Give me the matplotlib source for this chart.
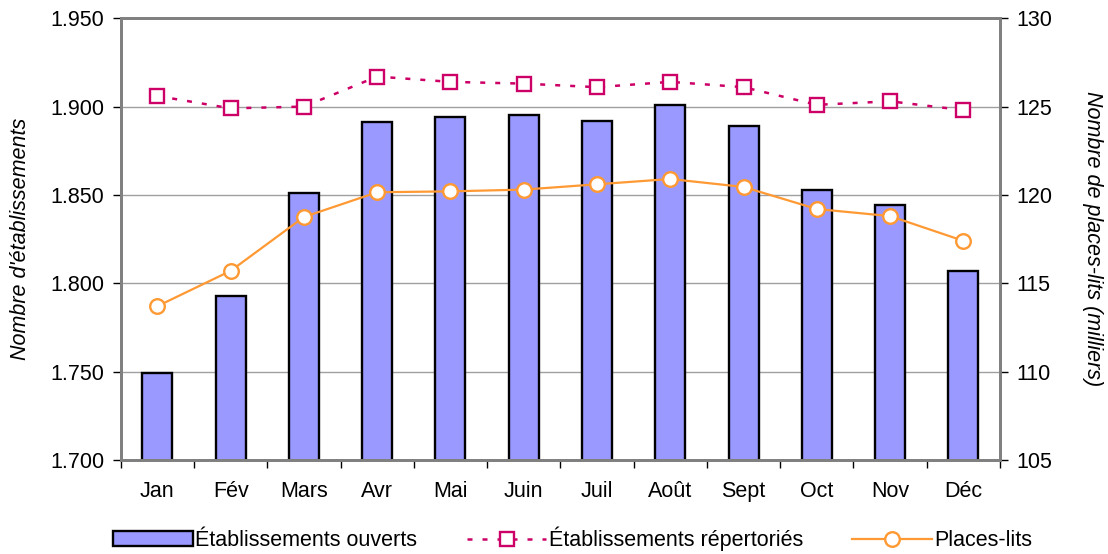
import numpy as np
import matplotlib
matplotlib.use("Agg")
import matplotlib.pyplot as plt
from matplotlib.ticker import FuncFormatter, FixedLocator

plt.rcParams['font.family'] = ['Liberation Sans', 'DejaVu Sans']

mois = ["Jan", "Fév", "Mars", "Avr", "Mai", "Juin", "Juil", "Août", "Sept", "Oct", "Nov", "Déc"]
ouverts = [1749, 1793, 1851, 1891, 1894, 1895, 1892, 1901, 1889, 1853, 1844, 1807]
repertories = [1906, 1899, 1900, 1917, 1914, 1913, 1911, 1914, 1911, 1901, 1903, 1898]
places_lits = [113.7, 115.7, 118.75, 120.15, 120.2, 120.3, 120.6, 120.9, 120.45, 119.2, 118.8, 117.4]

fs = 15.5
x = np.arange(len(mois))

fig = plt.figure(figsize=(11.08, 5.54), dpi=100)
ax = fig.add_axes([0.109, 0.170, 0.7935, 0.797])
ax2 = ax.twinx()

ax.set_zorder(1)
ax2.set_zorder(2)
ax.patch.set_visible(True)
ax2.patch.set_visible(False)

ax.grid(axis='y', color='#a0a0a0', lw=1, zorder=0)
bars = ax.bar(x, ouverts, width=0.41, color='#9999ff', edgecolor='black', lw=1.7, zorder=2,
              label="Établissements ouverts")
rep, = ax.plot(x, repertories, color='#cc0066', lw=1.8, dashes=(2, 4), marker='s', ms=10,
               mfc='white', mec='#cc0066', mew=1.7, zorder=3, label="Établissements répertoriés")
pl, = ax2.plot(x, places_lits, color='#ff9933', lw=1.6, marker='o', ms=10.5,
               mfc='white', mec='#ff9933', mew=1.7, zorder=3, label="Places-lits")

ax.set_xlim(-0.5, 11.5)
ax.set_ylim(1700, 1950)
ax.set_yticks(np.arange(1700, 1951, 50))
ax.yaxis.set_major_formatter(FuncFormatter(lambda v, p: f"{v:,.0f}".replace(",", ".")))
ax2.set_ylim(105, 130)
ax2.set_yticks(np.arange(105, 131, 5))

ax.xaxis.set_major_locator(FixedLocator(np.arange(-0.5, 12, 1)))
ax.xaxis.set_minor_locator(FixedLocator(x))
ax.set_xticklabels([], minor=False)
ax.set_xticklabels(mois, minor=True)
ax.tick_params(axis='x', which='minor', length=0, pad=15, labelsize=fs)
ax.tick_params(axis='x', which='major', length=6, width=1, direction='out')
ax.tick_params(axis='y', length=6, width=1, labelsize=fs, pad=6)
ax2.tick_params(axis='y', length=6, width=1, labelsize=fs, pad=6)

for a in (ax, ax2):
    for s in a.spines.values():
        s.set_color('#808080')
        s.set_linewidth(2)

ax.set_ylabel("Nombre d'établissements", fontsize=fs, style='italic', labelpad=14)
ax2.set_ylabel("Nombre de places-lits (milliers)", fontsize=fs, style='italic', rotation=270,
               labelpad=36)

fig.legend(handles=[bars, rep, pl], loc='lower center', bbox_to_anchor=(0.517, -0.03), ncol=3,
           frameon=False, fontsize=fs, handlelength=3.7, handletextpad=0.1, columnspacing=2.3,
           handleheight=0.7)

fig.savefig("out.png", dpi=100)
